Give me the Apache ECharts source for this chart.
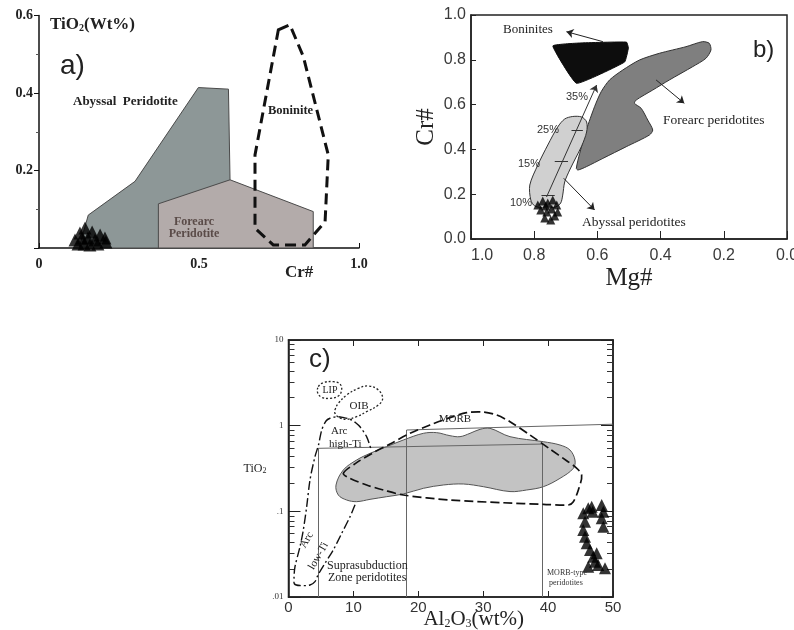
<!DOCTYPE html>
<html><head><meta charset="utf-8">
<script src="https://cdn.jsdelivr.net/npm/echarts@6/dist/echarts.min.js"></script>
<style>html,body{margin:0;padding:0;background:#fff}#c{width:794px;height:630px}</style>
</head><body><div id="c"></div>
<script>
// ---------- Panel a : TiO2 vs Cr# ----------
const aAbyssal = [[0.125,0],[0.154,0.085],[0.30,0.172],[0.498,0.414],[0.592,0.41],[0.597,0.176],[0.597,0]];
const aForearc = [[0.373,0],[0.373,0.114],[0.597,0.176],[0.857,0.094],[0.857,0]];
const aBoninite = [[0.748,0.563],[0.784,0.576],[0.826,0.494],[0.904,0.24],[0.894,0.068],[0.831,0.008],[0.732,0.008],[0.675,0.051],[0.675,0.24]];
const aSamples = [[0.1125,0.0206],[0.128,0.0387],[0.144,0.0516],[0.153,0.0258],[0.166,0.0413],[0.175,0.0206],[0.191,0.0335],[0.206,0.0258],[0.122,0.0103],[0.141,0.0103],[0.159,0.0077],[0.184,0.0103],[0.209,0.0155],[0.134,0.0258]];

// ---------- Panel b : Cr# vs Mg# ----------
const bBoninites = [[0.741,0.862],[0.656,0.875],[0.508,0.879],[0.502,0.853],[0.514,0.79],[0.666,0.695]];
const bForearc = [[0.6666,0.3156],[0.656,0.3826],[0.635,0.4866],[0.609,0.5906],[0.588,0.6576],[0.5615,0.71],[0.5196,0.7545],[0.4669,0.799],[0.4038,0.829],[0.3196,0.8585],[0.2672,0.881],[0.246,0.8737],[0.2407,0.8438],[0.2565,0.8067],[0.2987,0.7692],[0.3722,0.71],[0.4249,0.665],[0.4773,0.6205],[0.4826,0.6058],[0.4615,0.5835],[0.4407,0.531],[0.4249,0.4866],[0.4353,0.4643],[0.5088,0.412],[0.5826,0.36],[0.635,0.3228],[0.6615,0.308]];
const bAbyssal = [[0.8107,0.174],[0.8139,0.241],[0.7886,0.33],[0.757,0.4196],[0.7256,0.5],[0.7035,0.5357],[0.6782,0.5469],[0.6498,0.5446],[0.6341,0.5223],[0.6341,0.4777],[0.6498,0.415],[0.6688,0.3616],[0.6877,0.308],[0.7035,0.2545],[0.7098,0.196],[0.7161,0.1607],[0.7319,0.1429],[0.7666,0.1384],[0.7981,0.1473]];
const bTrend = [[[0.761,0.1875],[0.6025,0.6875]]];
const bTrendTicks = [[[0.777,0.196],[0.735,0.196]],[[0.735,0.345],[0.693,0.345]],[[0.682,0.4835],[0.646,0.4835]]];
const bArrows = [[[0.5826,0.881],[0.698,0.9255]],[[0.4142,0.71],[0.325,0.6058]],[[0.7066,0.271],[0.6088,0.1295]]];
const bSamples = [[0.7886,0.1518],[0.7729,0.1696],[0.7571,0.1607],[0.7413,0.1741],[0.7287,0.1518],[0.7792,0.1295],[0.7603,0.1205],[0.7445,0.1339],[0.7256,0.1205],[0.7666,0.0938],[0.7476,0.0848],[0.7634,0.1473],[0.735,0.1027]];

// ---------- Panel c : TiO2 vs Al2O3 ----------
const cBlob = [[7.32,0.203],[7.68,0.155],[8.96,0.1356],[10.5,0.1297],[12.56,0.138],[15.13,0.1483],[17.69,0.1594],[20.78,0.1856],[23.86,0.203],[26.94,0.2085],[30.02,0.194],[34.13,0.17],[36.7,0.1775],[39.27,0.194],[41.83,0.2427],[43.89,0.3177],[44.14,0.3974],[43.37,0.52],[41.83,0.5946],[39.27,0.65],[34.13,0.744],[31.05,0.931],[29.51,0.906],[27.97,0.814],[26.43,0.744],[24.88,0.764],[22.83,0.829],[20.78,0.814],[17.69,0.68],[15.13,0.569],[12.56,0.475],[10.5,0.3974],[8.45,0.304]];
const cMORB = [[8.45,0.2778],[10.5,0.37],[13.07,0.484],[15.64,0.611],[18.72,0.814],[21.8,1.018],[24.88,1.24],[27.45,1.418],[30.02,1.444],[32.07,1.332],[34.13,1.113],[37.21,0.778],[40.29,0.534],[42.86,0.39],[44.14,0.332],[45.17,0.2655],[44.66,0.1775],[43.89,0.1297],[43.12,0.1186],[39.27,0.1208],[33.1,0.126],[24.88,0.1356],[17.69,0.155],[14.61,0.1775],[12.04,0.203],[9.48,0.2427]];
const cArc = [[10.25,0.119],[9.48,0.0865],[8.2,0.0554],[6.9,0.0354],[5.62,0.0247],[4.55,0.0181],[4.08,0.0151],[3.31,0.0138],[1.77,0.0136],[0.92,0.0142],[0.85,0.0167],[1.0,0.0226],[1.77,0.0386],[2.28,0.0605],[2.8,0.113],[3.31,0.232],[4.08,0.435],[4.62,0.594],[5.12,0.889],[5.78,1.134],[6.39,1.22],[7.43,1.27],[8.4,1.245],[9.48,1.19],[10.4,1.074],[11.02,0.97],[12.05,0.74],[12.67,0.544]];
const cLIP = [[4.6,2.853],[5.37,3.18],[6.91,3.264],[7.94,3.064],[8.19,2.608],[7.68,2.22],[6.39,2.085],[5.11,2.141],[4.49,2.428]];
const cOIB = [[7.16,1.524],[7.68,1.823],[8.96,2.28],[10.76,2.728],[12.3,2.904],[13.84,2.608],[14.51,2.085],[13.84,1.743],[12.04,1.457],[10.5,1.274],[8.96,1.186],[7.83,1.24],[7.16,1.393]];
const cFieldLines = [[[4.6,0.544],[39.1,0.61]],[[18.2,0.89],[49.95,1.04]],[[4.6,0.544],[4.6,0.01]],[[18.2,0.89],[18.2,0.01]],[[39.1,0.61],[39.1,0.01]]];
const cSamples = [[45.42,0.0948],[46.19,0.1085],[46.72,0.1133],[46.87,0.099],[48.26,0.1186],[48.51,0.099],[48.26,0.083],[48.51,0.0662],[45.69,0.0757],[45.42,0.0605],[45.69,0.0506],[45.95,0.0424],[46.46,0.0354],[46.96,0.0295],[47.23,0.0258],[46.19,0.0226],[47.73,0.0237],[48.77,0.0216],[47.49,0.0324]];

const SERIF = '"Liberation Serif","DejaVu Serif",serif';
const SANS = '"Liberation Sans",Arial,sans-serif';

function poly(data, xi, yi, style, opts) {
  opts = opts || {};
  return {
    type: 'custom', xAxisIndex: xi, yAxisIndex: yi, data: data, silent: true, z: opts.z || 2, clip: false,
    renderItem: function (params, api) {
      if (params.dataIndex !== 0) return;
      const pts = data.map(function (p) { return api.coord(p); });
      return { type: opts.open ? 'polyline' : 'polygon', shape: { points: pts, smooth: opts.smooth || 0 }, style: style };
    }
  };
}
function segs(data, xi, yi, style, arrow) {
  return {
    type: 'lines', coordinateSystem: 'cartesian2d', xAxisIndex: xi, yAxisIndex: yi, silent: true, z: 3,
    data: data.map(function (c) { return { coords: c }; }),
    symbol: arrow ? ['none', 'arrow'] : 'none', symbolSize: 7,
    lineStyle: Object.assign({ opacity: 1, curveness: 0, width: 1, color: '#222' }, style)
  };
}
function tri(data, xi, yi, size) {
  return { type: 'scatter', xAxisIndex: xi, yAxisIndex: yi, data: data, symbol: 'triangle', symbolSize: size,
    itemStyle: { color: '#000' }, silent: true, z: 6 };
}
function txt(text, x, y, font, opts) {
  opts = opts || {};
  return { type: 'text', x: x, y: y, rotation: opts.rotation || 0, z: 100,
    style: { text: text, font: font, fill: opts.fill || '#222', align: opts.align || 'left', verticalAlign: 'middle', rich: opts.rich } };
}
function logAxis(pos, withLabels) {
  return { gridIndex: 2, type: 'log', logBase: 10, min: 0.01, max: 10, position: pos,
    axisLine: { show: true, onZero: false, lineStyle: { color: '#222', width: 1.5 } },
    axisTick: { show: true, inside: true, length: 12, lineStyle: { color: '#222' } },
    minorTick: { show: true, splitNumber: 8, length: 6, lineStyle: { color: '#333' } },
    splitLine: { show: false }, minorSplitLine: { show: false },
    axisLabel: withLabels ? { margin: 5, color: '#333', fontFamily: SERIF, fontSize: 9,
      formatter: function (v) { return v >= 1 ? String(Math.round(v)) : (v > 0.05 ? '.1' : '.01'); } } : { show: false } };
}

const chart = echarts.init(document.getElementById('c'), null, { renderer: 'canvas' });

const yC = logAxis('left', true);
yC.name = '{a|TiO}{s|2}';
yC.nameLocation = 'middle'; yC.nameRotate = 0; yC.nameGap = 22; yC.nameMoveOverlap = false;
yC.nameTextStyle = { rich: {
  a: { fontFamily: SERIF, fontSize: 12, color: '#222' },
  s: { fontFamily: SERIF, fontSize: 8, color: '#222', verticalAlign: 'bottom', padding: [5, 0, 0, 0] } } };

const option = {
  animation: false,
  backgroundColor: '#fff',
  grid: [
    { left: 39, top: 15.5, width: 320, height: 232.5, containLabel: false, outerBoundsMode: 'none' },
    { left: 471, top: 15, width: 316, height: 224, show: true, borderColor: '#222', borderWidth: 1.5, containLabel: false, outerBoundsMode: 'none' },
    { left: 288.5, top: 340, width: 324.5, height: 257, show: true, borderColor: '#222', borderWidth: 1.5, containLabel: false, outerBoundsMode: 'none' }
  ],
  xAxis: [
    { gridIndex: 0, type: 'value', min: 0, max: 1, interval: 0.5,
      axisLine: { lineStyle: { color: '#111', width: 1.5 } },
      axisTick: { inside: true, length: 5, lineStyle: { color: '#111' } },
      axisLabel: { margin: 9, color: '#222', fontFamily: SERIF, fontWeight: 'bold', fontSize: 14,
        formatter: function (v) { return v === 0 ? '0' : v.toFixed(1); } },
      splitLine: { show: false } },
    { gridIndex: 1, type: 'value', min: 0, max: 1, interval: 0.2, inverse: true,
      axisLine: { lineStyle: { color: '#222', width: 1.5 } },
      axisTick: { inside: true, length: 8, lineStyle: { color: '#222' } },
      axisLabel: { margin: 9, color: '#3a3a3a', fontFamily: SANS, fontSize: 16, alignMaxLabel: 'left',
        formatter: function (v) { return v.toFixed(1); } },
      splitLine: { show: false },
      name: 'Mg#', nameLocation: 'middle', nameGap: 27,
      nameTextStyle: { fontFamily: SERIF, fontSize: 25, color: '#222' } },
    { gridIndex: 2, type: 'value', min: 0, max: 50, interval: 10,
      axisLine: { lineStyle: { color: '#222', width: 1.5 } },
      axisTick: { inside: true, length: 6, lineStyle: { color: '#222' } },
      axisLabel: { margin: 3, color: '#333', fontFamily: SANS, fontSize: 15 },
      splitLine: { show: false },
      name: '{a|Al}{s|2}{a|O}{s|3}{a|(wt%)}', nameLocation: 'middle', nameGap: 12, nameMoveOverlap: false,
      nameTextStyle: { padding: [0, 0, 0, 46], rich: {
        a: { fontFamily: SERIF, fontSize: 21, color: '#222' },
        s: { fontFamily: SERIF, fontSize: 12, color: '#222', verticalAlign: 'bottom', padding: [8, 0, 0, 0] } } } },
    { gridIndex: 2, type: 'value', min: 0, max: 50, interval: 10, position: 'top',
      axisLine: { onZero: false, lineStyle: { color: '#222', width: 1.5 } },
      axisTick: { inside: true, length: 6, lineStyle: { color: '#222' } },
      axisLabel: { show: false }, splitLine: { show: false } }
  ],
  yAxis: [
    { gridIndex: 0, type: 'value', min: 0, max: 0.6, interval: 0.2,
      axisLine: { show: true, lineStyle: { color: '#111', width: 1.5 } },
      axisTick: { show: true, inside: false, length: 5, lineStyle: { color: '#111' } },
      minorTick: { show: true, splitNumber: 2, length: 3, lineStyle: { color: '#555' } },
      axisLabel: { margin: 6, color: '#222', fontFamily: SERIF, fontWeight: 'bold', fontSize: 14,
        formatter: function (v) { return v === 0 ? '' : v.toFixed(1); } },
      splitLine: { show: false }, minorSplitLine: { show: false } },
    { gridIndex: 1, type: 'value', min: 0, max: 1, interval: 0.2, position: 'left',
      axisLine: { show: true, onZero: false, lineStyle: { color: '#222', width: 1.5 } },
      axisTick: { show: true, inside: true, length: 5, lineStyle: { color: '#222' } },
      axisLabel: { margin: 5, color: '#3a3a3a', fontFamily: SANS, fontSize: 16,
        formatter: function (v) { return v.toFixed(1); } },
      splitLine: { show: false },
      name: 'Cr#', nameLocation: 'middle', nameGap: 32,
      nameTextStyle: { fontFamily: SERIF, fontSize: 25, color: '#222' } },
    yC,
    logAxis('right', false)
  ],
  series: [
    // panel a
    poly(aAbyssal, 0, 0, { fill: '#8d9797', stroke: '#4a4a4a', lineWidth: 1 }, { z: 2 }),
    poly(aForearc, 0, 0, { fill: '#b3abaa', stroke: '#4a4a4a', lineWidth: 1 }, { z: 3 }),
    poly(aBoninite, 0, 0, { fill: 'none', stroke: '#111', lineWidth: 3, lineDash: [11, 6] }, { z: 4 }),
    tri(aSamples, 0, 0, 13),
    // panel b
    poly(bForearc, 1, 1, { fill: '#7f7f7f', stroke: '#333', lineWidth: 1 }, { z: 2, smooth: 0.25 }),
    poly(bAbyssal, 1, 1, { fill: '#d0d0d0', stroke: '#333', lineWidth: 1 }, { z: 2, smooth: 0.3 }),
    poly(bBoninites, 1, 1, { fill: '#0d0d0d', stroke: '#0d0d0d', lineWidth: 1 }, { z: 2, smooth: 0.1 }),
    segs(bTrend, 1, 1, { width: 1, color: '#333' }, true),
    segs(bTrendTicks, 1, 1, { width: 1, color: '#333' }, false),
    segs(bArrows, 1, 1, { width: 1, color: '#222' }, true),
    tri(bSamples, 1, 1, 9),
    // panel c
    poly(cBlob, 2, 2, { fill: '#c3c3c3', stroke: '#555', lineWidth: 1 }, { z: 2, smooth: 0.35 }),
    segs(cFieldLines, 2, 2, { width: 1, color: '#666' }, false),
    poly(cMORB, 2, 2, { fill: 'none', stroke: '#111', lineWidth: 1.7, lineDash: [9, 4] }, { z: 4, smooth: 0.3 }),
    poly(cArc, 2, 2, { fill: 'none', stroke: '#111', lineWidth: 1.4, lineDash: [9, 3, 2, 3] }, { z: 4, smooth: 0.3, open: true }),
    poly(cLIP, 2, 2, { fill: 'none', stroke: '#222', lineWidth: 1.3, lineDash: [2, 2] }, { z: 4, smooth: 0.4 }),
    poly(cOIB, 2, 2, { fill: 'none', stroke: '#222', lineWidth: 1.3, lineDash: [2, 2] }, { z: 4, smooth: 0.4 }),
    tri(cSamples, 2, 2, 12)
  ],
  graphic: [
    // panel a
    txt('{b|TiO}{s|2}{b|(Wt%)}', 50, 25, 'bold 17px ' + SERIF, { rich: {
      b: { fontFamily: SERIF, fontWeight: 'bold', fontSize: 17, fill: '#222' },
      s: { fontFamily: SERIF, fontWeight: 'bold', fontSize: 10, fill: '#222', verticalAlign: 'bottom', padding: [7, 0, 0, 0] } } }),
    txt('a)', 60, 66, '28px ' + SANS),
    txt('Abyssal  Peridotite', 73, 102, 'bold 13px ' + SERIF),
    txt('Boninite', 268, 111, 'bold 12.5px ' + SERIF),
    txt('Forearc', 194, 222, 'bold 12px ' + SERIF, { align: 'center', fill: '#5a4b48' }),
    txt('Peridotite', 194, 234, 'bold 12px ' + SERIF, { align: 'center', fill: '#5a4b48' }),
    txt('Cr#', 285, 273, 'bold 17px ' + SERIF),
    // panel b
    txt('b)', 753, 50, '24px ' + SANS),
    txt('Boninites', 503, 30, '13px ' + SERIF),
    txt('Forearc peridotites', 663, 120, '13.5px ' + SERIF),
    txt('Abyssal peridotites', 582, 222, '13.5px ' + SERIF),
    txt('10%', 510, 203, '11px ' + SANS, { fill: '#333' }),
    txt('15%', 518, 164, '11px ' + SANS, { fill: '#333' }),
    txt('25%', 537, 130, '11px ' + SANS, { fill: '#333' }),
    txt('35%', 566, 97, '11px ' + SANS, { fill: '#333' }),
    // panel c
    txt('c)', 309, 360, '26px ' + SANS),
    txt('LIP', 330, 390, '10px ' + SERIF, { align: 'center' }),
    txt('OIB', 359, 406, '11px ' + SERIF, { align: 'center' }),
    txt('MORB', 455, 419, '11px ' + SERIF, { align: 'center' }),
    txt('Arc', 331, 431, '11px ' + SERIF),
    txt('high-Ti', 329, 444, '11px ' + SERIF),
    txt('Arc', 306.7, 540, '11px ' + SERIF, { align: 'center', rotation: Math.PI / 3 }),
    txt('low-Ti', 318.5, 556, '11px ' + SERIF, { align: 'center', rotation: Math.PI / 3 }),
    txt('Suprasubduction', 327, 566, '12px ' + SERIF),
    txt('Zone peridotites', 328, 578, '12px ' + SERIF),
    txt('MORB-type', 547, 573, '8px ' + SERIF, { fill: '#333' }),
    txt('peridotites', 549, 583, '8px ' + SERIF, { fill: '#333' })
  ]
};
chart.setOption(option);
</script></body></html>
